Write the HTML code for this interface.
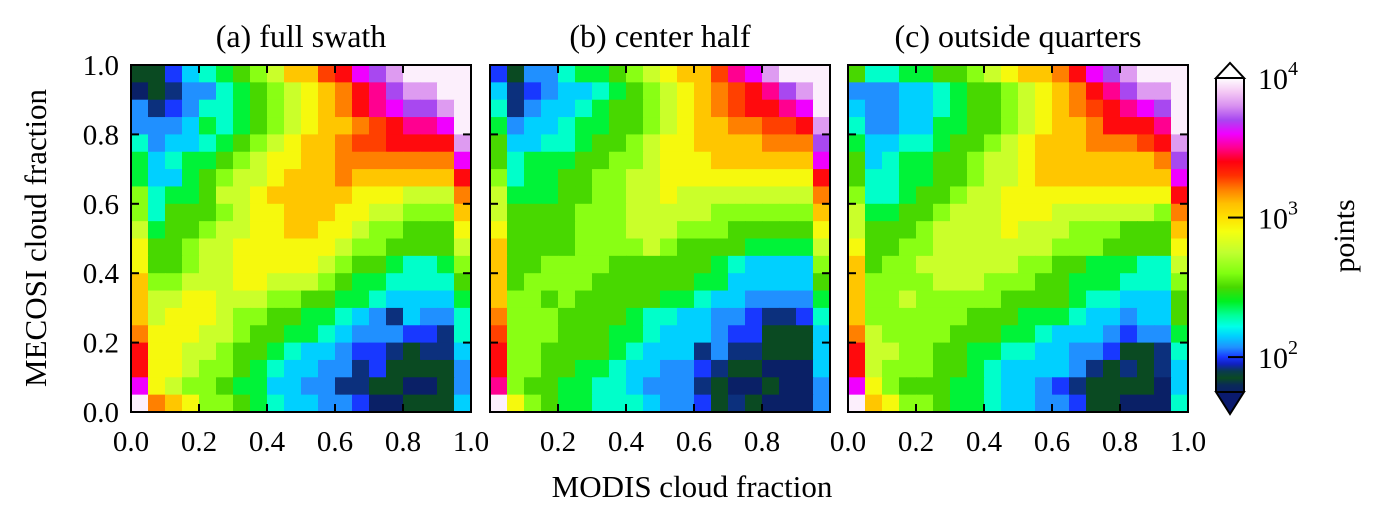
<!DOCTYPE html>
<html><head><meta charset="utf-8"><style>
html,body{margin:0;padding:0;background:#fff;}
svg{display:block;font-family:"Liberation Serif",serif;}
</style></head><body>
<svg id="fig" width="1379" height="515" viewBox="0 0 1379 515" xmlns="http://www.w3.org/2000/svg">
<text x="692" y="497" font-size="31" text-anchor="middle">MODIS cloud fraction</text>
<text transform="translate(46,238) rotate(-90)" font-size="31" text-anchor="middle">MECOSI cloud fraction</text>
<text transform="translate(1354,236) rotate(-90)" font-size="30" text-anchor="middle">points</text>
</svg>
<script>
const codeValues = {N:1.75,D:1.85,b:1.92,B:2.0,s:2.07,c:2.15,t:2.25,g:2.38,G:2.5,l:2.62,y:2.78,Y:2.92,o:3.08,O:3.2,r:3.28,R:3.38,m:3.5,M:3.6,p:3.7,P:3.82,w:3.97};
const panelTitles = ["(a) full swath","(b) center half","(c) outside quarters"];
const xTickLabels = ["0.0","0.2","0.4","0.6","0.8","1.0"];
const yTickLabels = ["0.0","0.2","0.4","0.6","0.8","1.0"];
const cbarTicks = [2,3,4];
// rows from top (y=1.0) to bottom (y=0.0); log10(points) codes
const gridA = [
"DDBctgGlyoorRMpPwwww","NDbsstgGlyYoORmpPPww","sbBsttgGlyYoORmMppPw","ssscgtgGlyYooOrRmmMw",
"tscctgGlyYooOrrRRRRP","gctggGlyYYooOOOOOOOM","gccgGlyyYoooOooooooR","ltggGyyYoooooYYYyyyO",
"ltGGGlyYYoooYYyylllo","ygGGlyyYYooYYyllGGGY","YGGlyyYYYYYYyllGGGGy","YGGlyyYYYYYylGGgttgl",
"ollyyyYYyyylGggttttG","oyyYYyyyllGGggtccccg","oyYYYyllGGggtcsbcsst","OYYYyylGGggtcsssBBbt",
"RYYyylGGgtccsBBbDbbc","RYYyllGgtccssbBDDDDs","MYyllGggccssbbDDNNDs","wOoYllGgtccssBNNDDDc"];
const gridB = [
"BDsstggGlyYoormMPwww","cbBscctgGlyYoOrRmpPw","tbscctgGGlyYoOrRRmMw","gscctggGGlyYooOOrrRP",
"GccttgGGlyYYooooOOOp","GtgggGGllyYYYooooooM","ltggGGllyyYYYYYYYYYR","ygggGGllyyYyyyyyyyyO",
"yGGGGlllyyyyyllllllo","YGGGGlllyyylllGGGGGY","oGGGGllllylGGGGggggy","oGGllllGGGGGGgtccccl",
"oGllllGGGGGGggcccccG","ollGlGGGGGggtccssssg","OlllGGGGgttccssBbbBt","rlllGGGggtcccsBBDDDc",
"RllGGGGgtcccbsbbDDDc","RllGGggtccssBbDDNNNc","mlGGggttcsssbDNNDNNs","wYlGggtttcssBDbDNNNs"];
const gridC = [
"GttggGGlyYooORMpPwww","ssscctgGGlyYoORmpPPw","csscctgGGlyYoOrRmMpw","tssccggGGlyYooORRRmw",
"gccttgGGlyYoooOOOrRP","GctggGGlyyYoooooooOp","GttggGGlyyYooooooooM","lttgGGlyyYYYYYYYYYYR",
"yggGGlyyyYYYyyyyyylO","yGGGlyyyyYyyylllGGGo","YGGllyyyyyyylllGGGGY","oGllyyyyyyllGGgggtty",
"ollllyyylllGGgggtttl","ollylllllGGGGgttcccG","ollllllGGGgggtccsccG","OyllllGGGggtcccsBssg",
"RyyllGGggttccssBDDbt","RylllGGgtccccsbDbDbc","MYlGGGggtccsBbDDDDNc","woYllGggtccssBDDNNNt"];
const grids = [gridA,gridB,gridC];
const panelX0 = [131,490,848];
const panelW = 340, plotY0 = 65, plotH = 347;
const cmapStops = [[1.72,"#0a1a6e"],[1.8,"#0a2a58"],[1.85,"#0a4a22"],[1.9,"#0a3a50"],[1.95,"#1020c0"],[2.0,"#1838ff"],[2.07,"#2090ff"],[2.15,"#00d0ff"],[2.22,"#00ffe8"],[2.3,"#00ff98"],[2.4,"#00f020"],[2.5,"#48d800"],[2.6,"#80ff10"],[2.75,"#c0ff30"],[2.9,"#f4ff10"],[3.0,"#ffe000"],[3.1,"#ffc000"],[3.2,"#ff8000"],[3.3,"#ff3000"],[3.4,"#ff0010"],[3.5,"#ff0090"],[3.6,"#f000ff"],[3.7,"#a848f0"],[3.8,"#d890f0"],[3.9,"#f4c8f4"],[4.0,"#ffffff"]];
function hex(c){return [1,3,5].map(i=>parseInt(c.substr(i,2),16));}
function cmap(v){
  if(v<=cmapStops[0][0])return cmapStops[0][1];
  for(let i=1;i<cmapStops.length;i++){
    if(v<=cmapStops[i][0]){
      const a=cmapStops[i-1],b=cmapStops[i],t=(v-a[0])/(b[0]-a[0]);
      const ca=hex(a[1]),cb=hex(b[1]);
      return "rgb("+ca.map((x,k)=>Math.round(x+(cb[k]-x)*t)).join(",")+")";
    }
  }
  return cmapStops[cmapStops.length-1][1];
}
const NS="http://www.w3.org/2000/svg", svg=document.getElementById('fig');
function mk(tag,attrs,parent){const e=document.createElementNS(NS,tag);for(const k in attrs)e.setAttribute(k,attrs[k]);(parent||svg).appendChild(e);return e;}
grids.forEach((grid,p)=>{
  const x0=panelX0[p];
  const xs=f=>x0+f*panelW, ys=f=>plotY0+plotH-f*plotH;
  const g=mk('g',{});
  
  
  const n=20;
  grid.forEach((row,r)=>{
    for(let c=0;c<n;c++){
      const v=codeValues[row[c]]||2.5;
      const fx=c/n, fy=(n-1-r)/n;
      const rc=mk('rect',{x:xs(fx).toFixed(2),y:ys(fy+1/n).toFixed(2),width:(panelW/n+0.6).toFixed(2),height:(plotH/n+0.6).toFixed(2),fill:cmap(v)},g);
      
      
    }
  });
  const fr=mk('rect',{x:x0,y:plotY0,width:panelW,height:plotH,fill:"none",stroke:"#000","stroke-width":2});
  
  
  for(let i=0;i<=5;i++){
    const f=i/5;
    mk('line',{x1:xs(f),x2:xs(f),y1:plotY0+plotH,y2:plotY0+plotH-8,stroke:"#000","stroke-width":2});
    mk('line',{x1:xs(f),x2:xs(f),y1:plotY0,y2:plotY0+8,stroke:"#000","stroke-width":2});
    mk('line',{x1:x0,x2:x0+8,y1:ys(f),y2:ys(f),stroke:"#000","stroke-width":2});
    mk('line',{x1:x0+panelW,x2:x0+panelW-8,y1:ys(f),y2:ys(f),stroke:"#000","stroke-width":2});
    if(p!==1 || (i>0&&i<5)){
      const t=mk('text',{x:xs(f),y:451,"font-size":29,"text-anchor":"middle"});
      t.textContent=xTickLabels[i];
      
      
    }
    if(p===0){
      const t=mk('text',{x:119,y:ys(f)+10,"font-size":29,"text-anchor":"end"});
      t.textContent=yTickLabels[i];
      
      
    }
  }
  const tt=mk('text',{x:x0+panelW/2,y:47,"font-size":32,"text-anchor":"middle"});
  tt.textContent=panelTitles[p];
  
  
});
// colorbar
const cbX=1216,cbW=28,cbTop=78,cbBot=392,cbMin=1.75,cbMax=4.0;
const cy=v=>cbBot-(v-cbMin)/(cbMax-cbMin)*(cbBot-cbTop);
const cb=mk('g',{});


for(let y=cbTop;y<cbBot;y++){
  const v=cbMin+(cbBot-y-0.5)/(cbBot-cbTop)*(cbMax-cbMin);
  mk('rect',{x:cbX,y:y,width:cbW,height:1.2,fill:cmap(v)},cb);
}
mk('polygon',{points:`${cbX},${cbTop} ${cbX+cbW/2},${cbTop-15} ${cbX+cbW},${cbTop}`,fill:"#fff",stroke:"#000","stroke-width":2},cb);
mk('polygon',{points:`${cbX},${cbBot} ${cbX+cbW/2},${cbBot+22} ${cbX+cbW},${cbBot}`,fill:"#0a1a6e",stroke:"#000","stroke-width":2},cb);
mk('line',{x1:cbX,x2:cbX,y1:cbTop,y2:cbBot,stroke:"#000","stroke-width":2},cb);
mk('line',{x1:cbX+cbW,x2:cbX+cbW,y1:cbTop,y2:cbBot,stroke:"#000","stroke-width":2},cb);
cbarTicks.forEach(v=>{
  mk('line',{x1:cbX+cbW,x2:cbX+cbW-16,y1:cy(v),y2:cy(v),stroke:"#000","stroke-width":2},cb);
  const t=mk('text',{x:1258,y:cy(v)+11,"font-size":30},cb);
  t.innerHTML='10<tspan font-size="20" dy="-14">'+v+'</tspan>';
  
  
});
</script>
</body></html>
